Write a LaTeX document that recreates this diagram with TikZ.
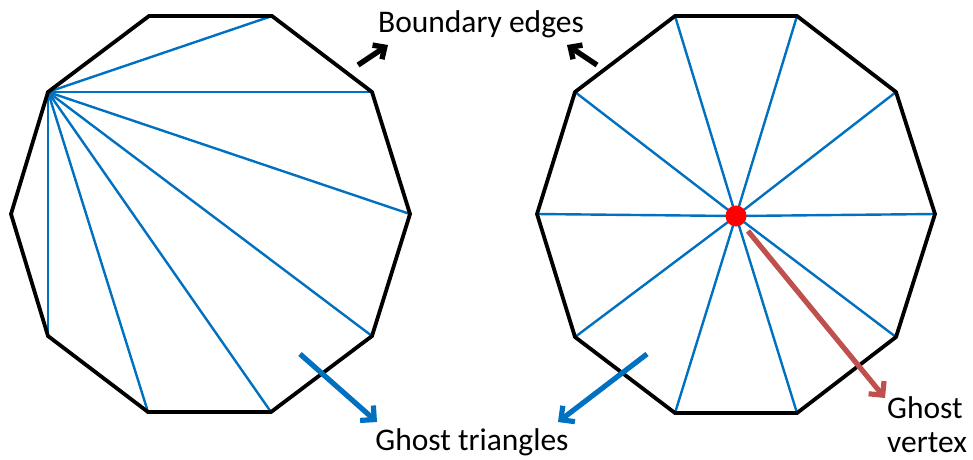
\documentclass[tikz,border=0pt]{standalone}
\usepackage{fontspec}
\setmainfont{Carlito}
\usetikzlibrary{arrows.meta}
\definecolor{pblue}{RGB}{0,112,192}
\definecolor{pred}{RGB}{192,80,77}
\begin{document}
\begin{tikzpicture}[x=1pt,y=-1pt,
  edge/.style={line width=3.8pt,black,line join=miter},
  diag/.style={line width=2.4pt,pblue},
  barrow/.style={line width=5.4pt,black,-{Straight Barb[length=9pt,width=17pt]}},
  garrow/.style={line width=5.2pt,pblue,-{Straight Barb[length=10pt,width=20pt]}},
  rarrow/.style={line width=5.2pt,pred,-{Straight Barb[length=10pt,width=20pt]}},
  lbl/.style={font=\fontsize{31.5}{37}\selectfont,inner sep=0pt}]
\useasboundingbox (0,0) rectangle (973,459);
% left decagon
\coordinate (L1) at (149,16);
\coordinate (L2) at (272,16);
\coordinate (L3) at (372,92);
\coordinate (L4) at (410,214);
\coordinate (L5) at (372,336);
\coordinate (L6) at (271,412);
\coordinate (L7) at (148,412);
\coordinate (L8) at (48,336);
\coordinate (L9) at (11,214);
\coordinate (L10) at (48,92);
\foreach \i in {2,3,4,5,6,7,8} \draw[diag] (L10) -- (L\i);
\draw[edge] (L1) -- (L2) -- (L3) -- (L4) -- (L5) -- (L6) -- (L7) -- (L8) -- (L9) -- (L10) -- cycle;
% right decagon
\coordinate (R1) at (675,16);
\coordinate (R2) at (797,16);
\coordinate (R3) at (896,92);
\coordinate (R4) at (935,214);
\coordinate (R5) at (896,337);
\coordinate (R6) at (797,413);
\coordinate (R7) at (675,413);
\coordinate (R8) at (575,337);
\coordinate (R9) at (537,214);
\coordinate (R10) at (575,92);
\coordinate (C) at (736,216);
\foreach \i in {1,...,10} \draw[diag] (C) -- (R\i);
\draw[edge] (R1) -- (R2) -- (R3) -- (R4) -- (R5) -- (R6) -- (R7) -- (R8) -- (R9) -- (R10) -- cycle;
\node[circle,fill=red,minimum size=21pt,inner sep=0pt] (gv) at (C) {};
% labels
\node[lbl,anchor=base] (be) at (481,32) {Boundary edges};
\node[lbl,anchor=base] (gt) at (472,450) {Ghost triangles};
\node[lbl,anchor=base west] (gvx1) at (887,418) {Ghost};
\node[lbl,anchor=base west] (gvx2) at (887,452) {vertex};
% arrows
\coordinate (b1t) at (358,65); \coordinate (b1h) at (388,45);
\coordinate (b2t) at (597,65); \coordinate (b2h) at (567,45);
\draw[barrow] (b1t) -- (b1h);
\draw[barrow] (b2t) -- (b2h);
\coordinate (g1t) at (300,354); \coordinate (g1h) at (377,422);
\coordinate (g2t) at (647,354); \coordinate (g2h) at (558,422);
\draw[garrow] (g1t) -- (g1h);
\draw[garrow] (g2t) -- (g2h);
\coordinate (rt) at (748,231); \coordinate (rh) at (885,398);
\draw[rarrow] (rt) -- (rh);
\end{tikzpicture}
\end{document}
